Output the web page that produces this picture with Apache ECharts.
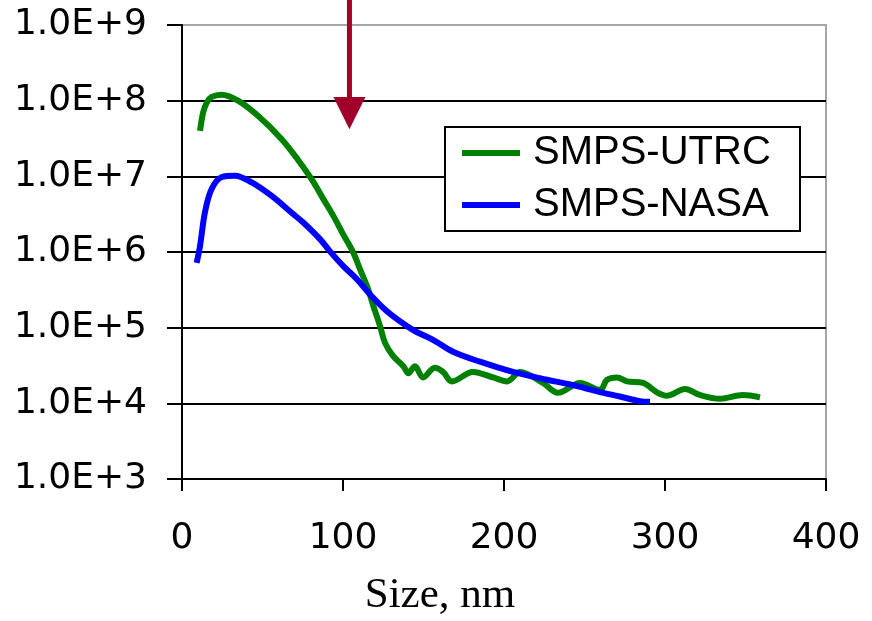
<!DOCTYPE html>
<html>
<head>
<meta charset="utf-8">
<title>SMPS size distribution</title>
<script src="https://cdn.jsdelivr.net/npm/echarts@6/dist/echarts.min.js"></script>
<style>
  html, body { margin: 0; padding: 0; background: #fff; }
  #chart { width: 872px; height: 621px; }
</style>
</head>
<body>
<div id="chart"></div>
<script>
// Particle size (nm) and number concentration for each instrument
const seriesNames = ['SMPS-UTRC', 'SMPS-NASA'];

const utrcSize = [11.2, 13.2, 15.5, 18.4, 24.7, 34.8, 47.2, 61.9, 72.0, 80.6, 87.8, 94.0,
  100.2, 106.4, 110.6, 115.7, 118.8, 123.0, 126.1, 131.2, 137.5, 140.6, 144.7, 149.7,
  157.1, 162.1, 167.7, 180.7, 193.2, 201.9, 210.0, 224.2, 233.5, 247.2, 259.6, 264.0,
  270.2, 276.4, 286.3, 295.0, 301.2, 312.4, 321.7, 334.2, 348.4, 359.0];
const utrcConc = [4.0e7, 7.1e7, 9.5e7, 1.12e8, 1.2e8, 1.0e8, 6.3e7, 3.1e7, 1.66e7, 9.1e6, 5.0e6, 3.0e6,
  1.7e6, 9.8e5, 5.9e5, 3.2e5, 1.95e5, 1.05e5, 6.3e4, 4.2e4, 3.1e4, 2.5e4, 3.1e4, 2.2e4,
  2.95e4, 2.6e4, 1.95e4, 2.6e4, 2.2e4, 1.95e4, 2.6e4, 1.86e4, 1.38e4, 1.86e4, 1.5e4, 2.05e4,
  2.2e4, 1.95e4, 1.86e4, 1.4e4, 1.26e4, 1.55e4, 1.29e4, 1.15e4, 1.29e4, 1.2e4];

const nasaSize = [9.1, 11.2, 14.3, 18.4, 24.7, 32.9, 43.3, 55.7, 68.1, 75.3, 85.7, 91.9,
  100.2, 108.5, 116.8, 127.1, 139.6, 146.0, 155.9, 168.3, 185.1, 205.6, 226.7, 241.0,
  259.6, 272.0, 284.5, 290.7];
const nasaConc = [7.2e5, 1.2e6, 3.4e6, 6.8e6, 9.8e6, 1.02e7, 8.3e6, 5.5e6, 3.3e6, 2.45e6, 1.48e6, 1.02e6,
  6.5e5, 4.4e5, 2.75e5, 1.66e5, 1.05e5, 8.7e4, 6.9e4, 4.8e4, 3.55e4, 2.6e4, 2.05e4, 1.78e4,
  1.41e4, 1.23e4, 1.07e4, 1.05e4];

const xTicks = [0, 100, 200, 300, 400];
const yExponents = [3, 4, 5, 6, 7, 8, 9];

// Marker arrow: size it points at, and the concentrations of its head and tip
const arrowSize = 104;
const arrowHeadConc = 1.12e8;
const arrowTipConc = 4.2e7;

const pair = (xs, ys) => xs.map((x, i) => [x, ys[i]]);

const chart = echarts.init(document.getElementById('chart'), null, { renderer: 'canvas' });

const labelFont = '"DejaVu Sans", sans-serif';

chart.setOption({
  backgroundColor: '#ffffff',
  animation: false,
  grid: {
    left: 182, right: 46, top: 25, bottom: 142,
    outerBoundsMode: 'none',
    show: true, borderColor: '#a6a6a6', borderWidth: 2, backgroundColor: '#ffffff'
  },
  legend: {
    orient: 'vertical',
    left: 445, top: 127,
    backgroundColor: '#ffffff',
    borderColor: '#000000',
    borderWidth: 2,
    padding: [6, 10, 6, 17],
    itemGap: 12,
    itemWidth: 58,
    itemHeight: 6,
    icon: 'rect',
    textStyle: {
      fontFamily: '"Liberation Sans", Arial, sans-serif',
      fontSize: 40,
      color: '#000',
      lineHeight: 40,
      padding: [0, 0, 0, 8],
      width: 257
    },
    data: seriesNames
  },
  xAxis: {
    type: 'value',
    min: xTicks[0], max: xTicks[xTicks.length - 1], interval: 100,
    name: 'Size, nm',
    nameLocation: 'middle',
    nameGap: 95,
    nameTextStyle: {
      fontFamily: '"Liberation Serif", "Times New Roman", serif',
      fontSize: 43, color: '#000',
      padding: [0, 128, 0, 0]
    },
    axisLine: { lineStyle: { color: '#000', width: 2 } },
    axisTick: { show: true, inside: false, length: 12, lineStyle: { color: '#000', width: 2 } },
    axisLabel: { fontFamily: labelFont, fontSize: 36, color: '#000', margin: 42 },
    splitLine: { show: false }
  },
  yAxis: {
    type: 'log',
    logBase: 10,
    min: Math.pow(10, yExponents[0]),
    max: Math.pow(10, yExponents[yExponents.length - 1]),
    splitNumber: 6,
    axisLine: { show: true, lineStyle: { color: '#000', width: 2 } },
    axisTick: { show: true, inside: false, length: 15, lineStyle: { color: '#000', width: 2 } },
    axisLabel: {
      fontFamily: labelFont, fontSize: 36, color: '#000', margin: 35,
      formatter: v => '1.0E+' + Math.round(Math.log10(v))
    },
    splitLine: { show: true, showMaxLine: false, showMinLine: false, lineStyle: { color: '#000', width: 2 } },
    minorTick: { show: false }
  },
  series: [
    {
      name: seriesNames[0],
      type: 'line',
      data: pair(utrcSize, utrcConc),
      symbol: 'none',
      smooth: 0.35,
      lineStyle: { color: '#008000', width: 6 },
      itemStyle: { color: '#008000' },
      z: 3
    },
    {
      name: seriesNames[1],
      type: 'line',
      data: pair(nasaSize, nasaConc),
      symbol: 'none',
      smooth: 0.35,
      lineStyle: { color: '#0000ff', width: 6 },
      itemStyle: { color: '#0000ff' },
      z: 4
    }
  ]
});

// Red arrow marking the size of interest, from the top edge down into the plot
function drawArrow() {
  const head = chart.convertToPixel({ gridIndex: 0 }, [arrowSize, arrowHeadConc]);
  const tip = chart.convertToPixel({ gridIndex: 0 }, [arrowSize, arrowTipConc]);
  const color = '#a0002a';
  const halfHead = 16;
  chart.setOption({
    graphic: [
      {
        type: 'line', z: 10,
        shape: { x1: head[0], y1: 0, x2: head[0], y2: head[1] + 2 },
        style: { stroke: color, lineWidth: 5 }
      },
      {
        type: 'polygon', z: 10,
        shape: { points: [[head[0] - halfHead, head[1]], [head[0] + halfHead, head[1]], [tip[0], tip[1]]] },
        style: { fill: color }
      }
    ]
  });
}
drawArrow();
</script>
</body>
</html>
